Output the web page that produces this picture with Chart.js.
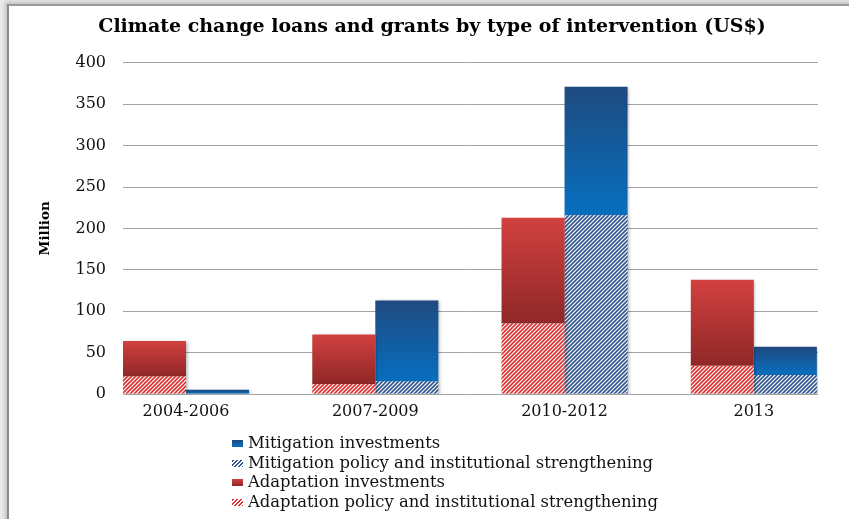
<!DOCTYPE html>
<html>
<head>
<meta charset="utf-8">
<script src="https://cdn.jsdelivr.net/npm/chart.js@4.4.1/dist/chart.umd.min.js"></script>
<style>
  html, body { margin: 0; padding: 0; background: #ffffff; }
  #wrap { position: relative; width: 849px; height: 519px; overflow: hidden; background: #e9e9e9; }
  #frame { position: absolute; left: 7px; top: 4px; width: 860px; height: 530px; background: #ffffff;
           border-left: 2px solid #8a8a8a; border-top: 2px solid #9a9a9a; box-shadow: -2px -2px 4px rgba(0,0,0,0.18); }
  #chartBox { position: absolute; left: 0; top: 0; width: 849px; height: 519px; }
  #legend { position: absolute; left: 232px; top: 433px; font-family: "DejaVu Serif", serif; font-size: 16.4px;
            line-height: 19.5px; color: #111; }
  #legend div { white-space: nowrap; }
  #legend .sw { display: inline-block; width: 11px; height: 7px; margin-right: 5px; vertical-align: 1px; }
</style>
</head>
<body>
<div id="wrap">
  <div id="frame"></div>
  <div id="chartBox"><canvas id="c" width="849" height="519"></canvas></div>
  <div id="legend"></div>
</div>
<script>
// ---- data (US$ million) ----
const categories = ["2004-2006", "2007-2009", "2010-2012", "2013"];
const adaptationPolicy = [21, 12, 85, 34];
const adaptationInvestments = [43, 60, 128, 104];
const mitigationPolicy = [0, 15, 216, 23];
const mitigationInvestments = [5, 98, 155, 34];
const yTicks = [0, 50, 100, 150, 200, 250, 300, 350, 400];
const seriesNames = {
  mitInv: "Mitigation investments",
  mitPol: "Mitigation policy and institutional strengthening",
  adaInv: "Adaptation investments",
  adaPol: "Adaptation policy and institutional strengthening"
};
const legendOrder = ["mitInv", "mitPol", "adaInv", "adaPol"];

// ---- styling helpers ----
function hatch(color) {
  const c = document.createElement('canvas');
  c.width = 4; c.height = 4;
  const g = c.getContext('2d');
  g.fillStyle = '#ffffff'; g.fillRect(0, 0, 4, 4);
  g.strokeStyle = color; g.lineWidth = 1.6;
  g.beginPath();
  g.moveTo(0, 4); g.lineTo(4, 0);
  g.moveTo(-1, 1); g.lineTo(1, -1);
  g.moveTo(3, 5); g.lineTo(5, 3);
  g.stroke();
  return c;
}
const ctx2d = document.getElementById('c').getContext('2d');
const redHatch = ctx2d.createPattern(hatch('#df2f2f'), 'repeat');
const blueHatch = ctx2d.createPattern(hatch('#2f548f'), 'repeat');

function gradientFill(topColor, bottomColor, baseArr, valArr) {
  return function (context) {
    const chart = context.chart;
    if (!chart.chartArea || context.dataIndex === undefined) return topColor;
    const i = context.dataIndex;
    const ys = chart.scales.y;
    const y0 = ys.getPixelForValue(baseArr[i] + valArr[i]);
    const y1 = ys.getPixelForValue(baseArr[i]);
    if (!(y1 > y0)) return topColor;
    const g = chart.ctx.createLinearGradient(0, y0, 0, y1);
    g.addColorStop(0, topColor);
    g.addColorStop(1, bottomColor);
    return g;
  };
}

const shadowPlugin = {
  id: 'barShadow',
  beforeDatasetsDraw(chart) {
    const c = chart.ctx;
    c.save();
    c.shadowColor = 'rgba(0,0,0,0.28)';
    c.shadowBlur = 3;
    c.shadowOffsetX = 1.5;
    c.shadowOffsetY = 1;
  },
  afterDatasetsDraw(chart) { chart.ctx.restore(); }
};

Chart.defaults.font.family = '"DejaVu Serif", serif';
Chart.defaults.color = '#111111';

const toPoints = arr => arr.map((v, i) => ({ x: i, y: v }));

const chart = new Chart(document.getElementById('c'), {
  type: 'bar',
  data: {
    datasets: [
      { key: 'adaPol', label: seriesNames.adaPol, stack: 'adaptation', data: toPoints(adaptationPolicy),
        backgroundColor: redHatch },
      { key: 'adaInv', label: seriesNames.adaInv, stack: 'adaptation', data: toPoints(adaptationInvestments),
        backgroundColor: gradientFill('#d24140', '#8f2727', adaptationPolicy, adaptationInvestments) },
      { key: 'mitPol', label: seriesNames.mitPol, stack: 'mitigation', data: toPoints(mitigationPolicy),
        backgroundColor: blueHatch },
      { key: 'mitInv', label: seriesNames.mitInv, stack: 'mitigation', data: toPoints(mitigationInvestments),
        backgroundColor: gradientFill('#1f4a80', '#076fc0', mitigationPolicy, mitigationInvestments) }
    ]
  },
  options: {
    responsive: false,
    animation: false,
    events: [],
    categoryPercentage: 0.666,
    barPercentage: 1.0,
    layout: { padding: { left: 46, right: 31, top: 0, bottom: 95 } },
    plugins: {
      legend: { display: false },
      tooltip: { enabled: false },
      title: {
        display: true,
        text: 'Climate change loans and grants by type of intervention (US$)',
        font: { size: 19, weight: 'bold' },
        color: '#000000',
        padding: { top: 16, bottom: 24 }
      }
    },
    scales: {
      x: {
        type: 'linear',
        stacked: true,
        offset: false,
        min: -0.333,
        max: 3.339,
        afterBuildTicks(scale) { scale.ticks = categories.map((c, i) => ({ value: i })); },
        afterFit(scale) { scale.height = 30; },
        ticks: {
          callback: v => categories[v] !== undefined ? categories[v] : '',
          font: { size: 16 },
          color: '#111111',
          maxRotation: 0,
          autoSkip: false,
          padding: 8
        },
        grid: { display: false, drawTicks: false },
        border: { display: false }
      },
      y: {
        stacked: true,
        min: 0,
        max: 400,
        afterBuildTicks(scale) { scale.ticks = yTicks.map(v => ({ value: v })); },
        afterFit(scale) { scale.width = 77; },
        ticks: { font: { size: 16 }, color: '#111111', padding: 17 },
        grid: { color: '#a3a3a3', lineWidth: 1, drawTicks: false },
        border: { display: false },
        title: {
          display: true,
          text: 'Million',
          font: { size: 13.5, weight: 'bold' },
          color: '#000000',
          padding: { top: -8.6, bottom: 0 }
        }
      }
    }
  },
  plugins: [shadowPlugin]
});

// ---- HTML legend built from the chart's datasets ----
const legendEl = document.getElementById('legend');
legendOrder.forEach(key => {
  const ds = chart.data.datasets.find(d => d.key === key);
  const row = document.createElement('div');
  const sw = document.createElement('span');
  sw.className = 'sw';
  if (key === 'mitInv') sw.style.background = 'linear-gradient(#1f4a80, #076fc0)';
  if (key === 'adaInv') sw.style.background = 'linear-gradient(#d24140, #8f2727)';
  if (key === 'mitPol') sw.style.background = 'repeating-linear-gradient(-45deg, #2f548f 0 1.4px, #ffffff 1.4px 2.8px)';
  if (key === 'adaPol') sw.style.background = 'repeating-linear-gradient(-45deg, #df2f2f 0 1.4px, #ffffff 1.4px 2.8px)';
  row.appendChild(sw);
  row.appendChild(document.createTextNode(ds.label));
  legendEl.appendChild(row);
});
</script>
</body>
</html>
